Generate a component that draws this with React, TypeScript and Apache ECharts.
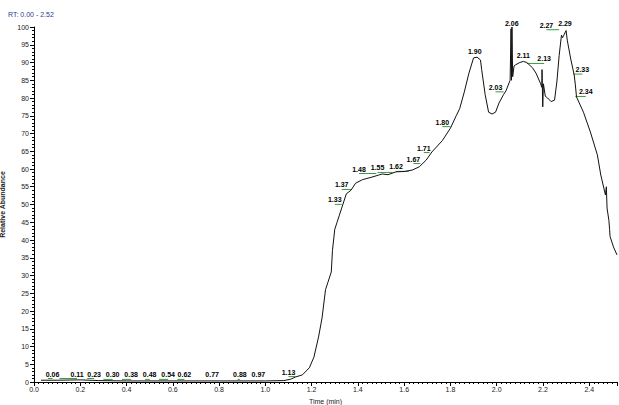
import React, { useEffect, useRef } from 'react';
import * as echarts from 'echarts';

// Chromatogram trace (time in min, relative abundance %)
const times = [
  0.03, 0.1, 0.2, 0.28, 0.4, 0.6, 0.8, 1.0, 1.08, 1.11, 1.13, 1.16, 1.19, 1.21, 1.23, 1.245, 1.26, 1.27,
  1.285, 1.29, 1.3, 1.31, 1.32, 1.33, 1.35, 1.37, 1.39, 1.42, 1.46, 1.49, 1.505, 1.53, 1.565, 1.6, 1.635,
  1.665, 1.695, 1.72, 1.765, 1.8, 1.825, 1.84, 1.86, 1.88, 1.9, 1.915, 1.93, 1.935, 1.95, 1.965, 1.98,
  1.995, 2.01, 2.03, 2.04, 2.055, 2.058, 2.062, 2.064, 2.066, 2.069, 2.075, 2.08, 2.1, 2.115, 2.13, 2.155,
  2.17, 2.19, 2.195, 2.196, 2.199, 2.202, 2.21, 2.22, 2.235, 2.25, 2.26, 2.27, 2.28, 2.285, 2.29, 2.3,
  2.305, 2.32, 2.335, 2.34, 2.345, 2.375, 2.405, 2.435, 2.45, 2.47, 2.474, 2.477, 2.485, 2.488, 2.49,
  2.505, 2.52,
];
const abundance = [
  0.5, 0.5, 0.6, 0.4, 0.3, 0.3, 0.3, 0.3, 0.4, 0.8, 1.4, 2, 4, 7, 12.7, 18, 26, 28,
  31, 37, 43, 45, 47, 49, 53, 54, 56, 57, 57.7, 58.3, 58.6, 58.4, 59.2, 59.3, 59.7,
  60.6, 62.5, 64.8, 68, 71.5, 75, 77, 81.7, 87, 91.3, 91.5, 90.7, 88, 81, 76, 75.5,
  76, 78.6, 81, 82, 84.5, 85, 99.5, 85, 100, 86, 89, 89.3, 90, 90.3, 90, 88.5,
  87, 84, 83, 88, 77.5, 84, 80.5, 80, 79, 79.4, 84.5, 92, 97.7, 97, 97.7, 99,
  96.3, 91, 86.5, 83.7, 80.3, 76, 70.4, 64, 58.3, 52.7, 55, 49, 45.5, 43, 41,
  38, 35.8,
];

// Peak annotations
const peakTimes = [
  0.06, 0.11, 0.23, 0.3, 0.38, 0.48, 0.54, 0.62, 0.77, 0.88, 0.97, 1.13, 1.33, 1.37, 1.48, 1.55,
  1.62, 1.67, 1.71, 1.8, 1.9, 2.03, 2.06, 2.11, 2.13, 2.27, 2.29, 2.33, 2.34,
];
const peakLabelTimes = [
  0.08, 0.186, 0.26, 0.34, 0.42, 0.5, 0.58, 0.65, 0.77, 0.89, 0.97, 1.1, 1.3, 1.33, 1.405, 1.485,
  1.565, 1.64, 1.685, 1.765, 1.905, 1.995, 2.065, 2.115, 2.205, 2.215, 2.295, 2.37, 2.385,
];
const peakLabelLevels = [
  2.25, 2.25, 2.25, 2.0, 2.0, 2.0, 2.0, 2.0, 2.0, 2.0, 2.0, 2.8, 51.3, 55.5, 60, 60.3,
  60.6, 62.8, 65.9, 73.2, 93, 83, 101, 92, 91, 100.5, 101, 88, 81.7,
];

const FONT = '"Liberation Sans", Arial, sans-serif';

export default function App() {
  const ref = useRef<HTMLDivElement>(null);

  useEffect(() => {
    document.body.style.margin = '0';
    if (!ref.current) return;
    const chart = echarts.init(ref.current, undefined, { renderer: 'svg' });

    const traceData = times.map((t, i) => [t, abundance[i]]);
    const peakData = peakTimes.map((t, i) => [t, peakLabelTimes[i], peakLabelLevels[i]]);

    chart.setOption({
      animation: false,
      backgroundColor: '#ffffff',
      grid: {
        left: 34,
        right: 2,
        top: 27,
        bottom: 23,
        containLabel: false,
        outerBoundsMode: 'none',
      },
      graphic: [
        {
          type: 'text',
          left: 8,
          top: 11,
          style: { text: 'RT: 0.00 - 2.52', font: `7px ${FONT}`, fill: '#2f3b8f' },
        },
      ],
      xAxis: {
        type: 'value',
        min: 0,
        max: 2.52,
        interval: 0.2,
        name: 'Time (min)',
        nameLocation: 'middle',
        nameGap: 14,
        nameTextStyle: { fontSize: 7, fontFamily: FONT, color: '#222' },
        axisLine: { show: true, lineStyle: { color: '#000', width: 1 } },
        axisTick: { show: true, length: 4, lineStyle: { color: '#000' } },
        minorTick: { show: true, splitNumber: 10, length: 2, lineStyle: { color: '#000' } },
        splitLine: { show: false },
        minorSplitLine: { show: false },
        axisLabel: {
          fontSize: 7,
          fontFamily: FONT,
          color: '#222',
          margin: 4,
          showMaxLabel: false,
          formatter: (v: number) =>
            Math.abs(v * 5 - Math.round(v * 5)) < 1e-6 ? v.toFixed(1) : '',
        },
      },
      yAxis: {
        type: 'value',
        min: 0,
        max: 100,
        interval: 5,
        name: 'Relative Abundance',
        nameLocation: 'middle',
        nameGap: 19,
        nameTextStyle: { fontSize: 7, fontFamily: FONT, color: '#222', fontWeight: 'bold' },
        axisLine: { show: true, lineStyle: { color: '#000', width: 1 } },
        axisTick: { show: true, length: 4, lineStyle: { color: '#000' } },
        minorTick: { show: true, splitNumber: 5, length: 2, lineStyle: { color: '#000' } },
        splitLine: { show: false },
        minorSplitLine: { show: false },
        axisLabel: { fontSize: 7, fontFamily: FONT, color: '#222', margin: 5 },
      },
      series: [
        {
          type: 'line',
          data: traceData,
          showSymbol: false,
          symbol: 'none',
          lineStyle: { color: '#111', width: 1 },
          silent: true,
        },
        {
          type: 'custom',
          clip: false,
          silent: true,
          data: peakData,
          encode: { x: [0, 1], y: 2 },
          renderItem: (params: any, api: any) => {
            const pt = api.value(0) as number;
            const lt = api.value(1) as number;
            const lv = api.value(2) as number;
            const [lx, ly] = api.coord([lt, lv]);
            const [px] = api.coord([pt, lv]);
            const children: any[] = [
              {
                type: 'text',
                style: {
                  text: pt.toFixed(2),
                  x: lx,
                  y: ly,
                  align: 'center',
                  verticalAlign: 'middle',
                  font: `bold 7px ${FONT}`,
                  fill: '#000',
                },
              },
            ];
            if (Math.abs(px - lx) > 2) {
              children.push({
                type: 'line',
                shape: { x1: Math.min(px, lx), y1: ly + 4.5, x2: Math.max(px, lx), y2: ly + 4.5 },
                style: { stroke: '#3c9a3c', lineWidth: 1 },
              });
            }
            return { type: 'group', children };
          },
        },
      ],
    });

    return () => chart.dispose();
  }, []);

  return (
    <div
      ref={ref}
      style={{ position: 'fixed', left: 0, top: 0, width: 619, height: 405, background: '#fff' }}
    />
  );
}
